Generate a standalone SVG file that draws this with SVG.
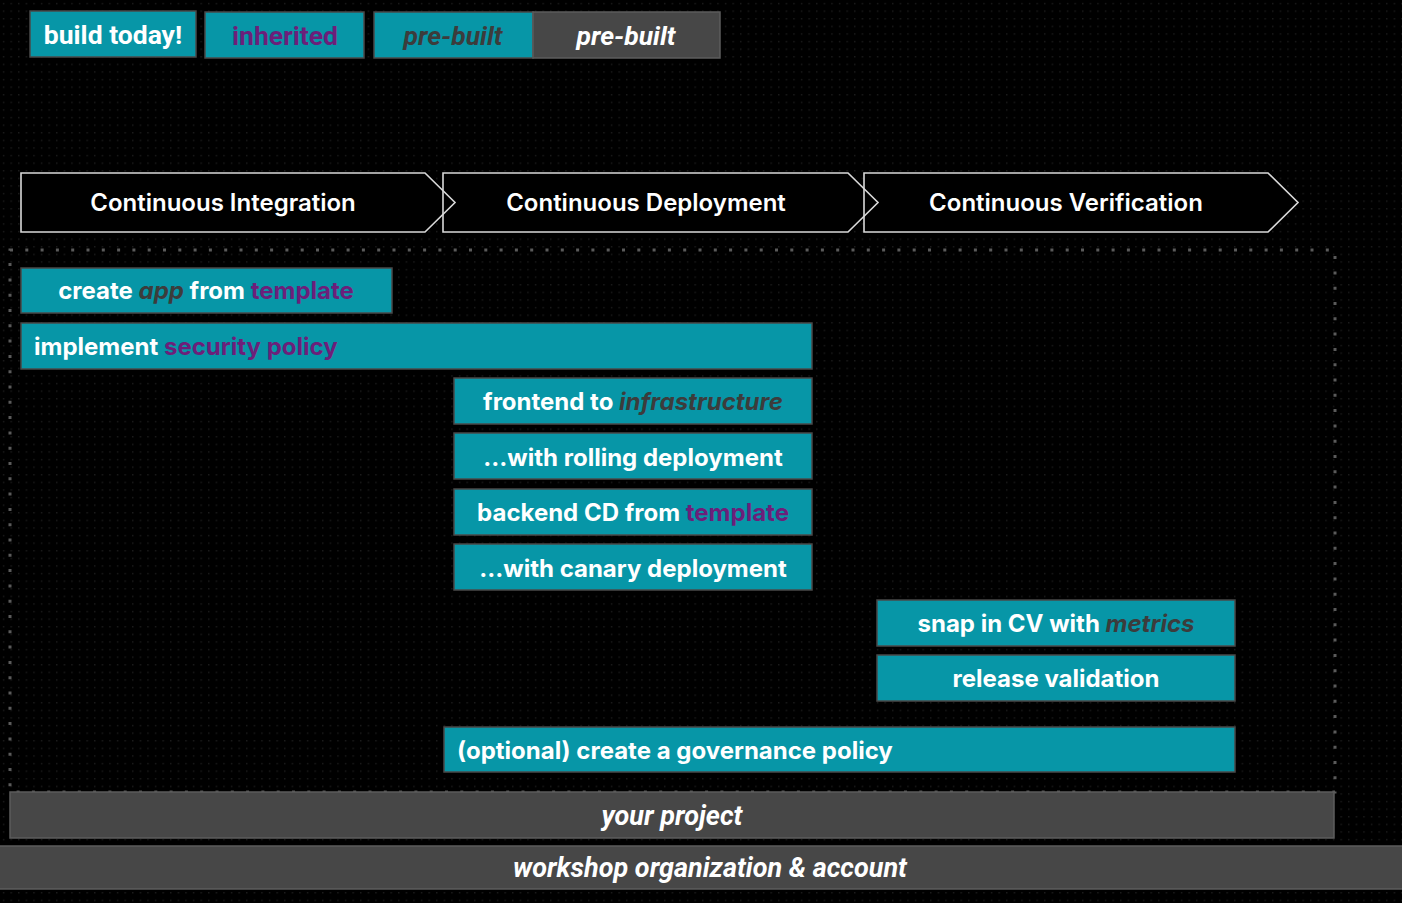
<svg xmlns="http://www.w3.org/2000/svg" width="1402" height="903" viewBox="0 0 1402 903">
<defs>
<pattern id="dots" x="0" y="0" width="7.6" height="7.6" patternUnits="userSpaceOnUse">
<rect x="3" y="3" width="1.2" height="1.2" fill="#262626"/>
</pattern>
<style>
.teal{fill:#0796a7;stroke:#4a4a4a;stroke-width:1.5}
.gray{fill:#474747;stroke:#5c5c5c;stroke-width:1.5}
.phase{fill:none;stroke:#d9d9d9;stroke-width:1.6}
.phf{fill:#000;stroke:none}
.t{font-family:Inter,"Liberation Sans",sans-serif;font-weight:700;font-size:24px;fill:#fff}
.ph{font-family:Inter,"Liberation Sans",sans-serif;font-weight:600;font-size:24px;fill:#fff;text-anchor:middle}
.lg{font-family:Roboto,"Liberation Sans",sans-serif;font-weight:700;font-size:26.5px;fill:#fff;text-anchor:middle}
.bt{font-family:Roboto,"Liberation Sans",sans-serif;font-weight:700;font-style:italic;font-size:27px;fill:#fff;text-anchor:middle}
.c{text-anchor:middle}
.pu{fill:#6c1f7a}
.dk{fill:#3c3c3c;font-style:italic}
</style>
</defs>
<rect width="1402" height="903" fill="#000"/>
<rect width="1402" height="903" fill="url(#dots)"/>

<g id="legend">
<g id="legend-build"><rect class="teal" x="30" y="11" width="166" height="46"/><text class="lg" x="113" y="44">build today!</text></g>
<g id="legend-inherited"><rect class="teal" x="205" y="12" width="159" height="46"/><text class="lg pu" x="285" y="45" font-weight="500">inherited</text></g>
<g id="legend-prebuilt-teal"><rect class="teal" x="374" y="12" width="159" height="46"/><text class="lg dk" x="453" y="45" font-weight="500">pre-built</text></g>
<g id="legend-prebuilt-gray"><rect class="gray" x="533" y="12" width="187" height="46"/><text class="lg" x="626" y="45" font-style="italic">pre-built</text></g>
</g>

<g id="boundary">
<rect x="10" y="250" width="1325" height="542" fill="none" stroke="#5a5a5a" stroke-width="3" stroke-dasharray="3 12.3"/>
</g>

<g id="phase-fills">
<path class="phf" d="M21,173 H425 L455,202.5 L425,232 H21 Z"/>
<path class="phf" d="M443,173 H848 L878,202.5 L848,232 H443 Z"/>
<path class="phf" d="M864,173 H1268 L1298,202.5 L1268,232 H864 Z"/>
</g>
<g id="phase-ci"><path class="phase" d="M21,173 H425 L455,202.5 L425,232 H21 Z"/><text class="ph" x="223" y="211">Continuous Integration</text></g>
<g id="phase-cd"><path class="phase" d="M443,173 H848 L878,202.5 L848,232 H443 Z"/><text class="ph" x="646" y="211">Continuous Deployment</text></g>
<g id="phase-cv"><path class="phase" d="M864,173 H1268 L1298,202.5 L1268,232 H864 Z"/><text class="ph" x="1066" y="211">Continuous Verification</text></g>

<g id="create-app"><rect class="teal" x="21" y="268" width="371" height="45"/><text class="t c" x="206" y="299">create <tspan class="dk">app</tspan> from <tspan class="pu">template</tspan></text></g>
<g id="security-policy"><rect class="teal" x="21" y="323" width="791" height="46"/><text class="t" x="34" y="355">implement <tspan class="pu">security policy</tspan></text></g>
<g id="frontend"><rect class="teal" x="454" y="378" width="358" height="46"/><text class="t c" x="633" y="410">frontend to <tspan class="dk">infrastructure</tspan></text></g>
<g id="rolling"><rect class="teal" x="454" y="433" width="358" height="46"/><text class="t c" x="633" y="466">…with rolling deployment</text></g>
<g id="backend"><rect class="teal" x="454" y="489" width="358" height="46"/><text class="t c" x="633" y="521">backend CD from <tspan class="pu">template</tspan></text></g>
<g id="canary"><rect class="teal" x="454" y="544" width="358" height="46"/><text class="t c" x="633" y="577">…with canary deployment</text></g>
<g id="snap-cv"><rect class="teal" x="877" y="600" width="358" height="46"/><text class="t c" x="1056" y="632">snap in CV with <tspan class="dk">metrics</tspan></text></g>
<g id="release-validation"><rect class="teal" x="877" y="655" width="358" height="46"/><text class="t c" x="1056" y="687">release validation</text></g>
<g id="governance"><rect class="teal" x="444" y="727" width="791" height="45"/><text class="t" x="457" y="759">(optional) create a governance policy</text></g>

<g id="your-project"><rect class="gray" x="10" y="792" width="1324" height="46"/><text class="bt" x="672" y="825">your project</text></g>
<g id="workshop"><rect class="gray" x="-2" y="846" width="1406" height="43"/><text class="bt" x="710" y="877">workshop organization &amp; account</text></g>
</svg>
